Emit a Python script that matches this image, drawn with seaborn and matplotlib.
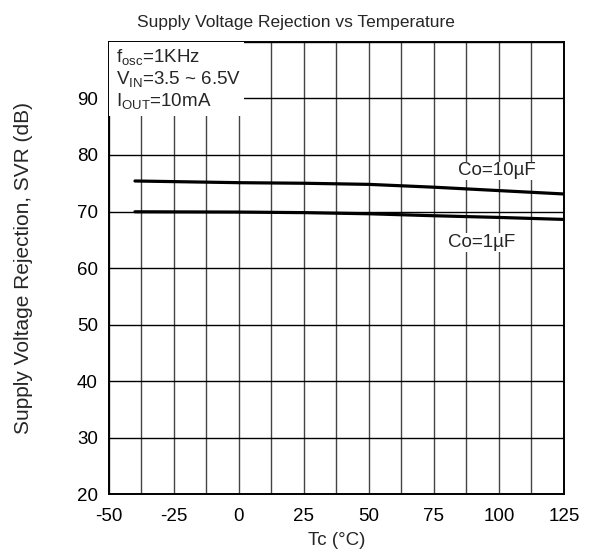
import matplotlib
matplotlib.use("Agg")
import matplotlib.pyplot as plt
import seaborn as sns
import pandas as pd
import numpy as np

sns.set_theme(style="white")
plt.rcParams['font.family'] = ['Liberation Sans', 'DejaVu Sans']
plt.rcParams['mathtext.fontset'] = 'custom'
plt.rcParams['mathtext.rm'] = 'Liberation Sans'

temps = [-40, 0, 25, 50, 75, 100, 125]
svr_10uF = [75.4, 75.1, 75.0, 74.8, 74.3, 73.7, 73.1]
svr_1uF = [69.95, 69.9, 69.8, 69.6, 69.25, 68.95, 68.6]
series_names = ["Co=10µF", "Co=1µF"]

df = pd.concat([
    pd.DataFrame({"Tc": temps, "SVR": svr_10uF, "Co": series_names[0]}),
    pd.DataFrame({"Tc": temps, "SVR": svr_1uF, "Co": series_names[1]}),
])

xticks = [-50, -25, 0, 25, 50, 75, 100, 125]
yticks = [20, 30, 40, 50, 60, 70, 80, 90]

fig = plt.figure(figsize=(5.9, 5.51), dpi=100)
ax = fig.add_axes([0.1847, 0.1034, 0.7712, 0.8204])

# grid
for xv in np.arange(-50, 125.1, 12.5):
    ax.axvline(xv, color="#444444", lw=1.0, zorder=1)
for yv in range(20, 101, 10):
    ax.axhline(yv, color="black", lw=1.0, zorder=1)

sns.lineplot(data=df, x="Tc", y="SVR", hue="Co", palette=["black", "black"],
             linewidth=2.3, legend=False, ax=ax, zorder=3)

ax.set_xlim(-50, 125)
ax.set_ylim(20, 100)
ax.set_xticks(xticks)
ax.set_xticklabels([str(v) for v in xticks])
ax.set_yticks(yticks)
ax.set_yticklabels([str(v) for v in yticks])
ax.tick_params(axis="both", labelsize=13.5, colors="black")
ax.tick_params(axis="y", length=0, pad=8)
ax.tick_params(axis="x", length=0, pad=10)
for sp in ax.spines.values():
    sp.set_color("black")
    sp.set_linewidth(1.4)

ax.set_xlabel("Tc (°C)", fontsize=13.5, labelpad=5)
ax.set_ylabel("Supply Voltage Rejection, SVR (dB)", fontsize=15)
ax.yaxis.set_label_coords(-0.167, 0.5)
ax.set_title("Supply Voltage Rejection vs Temperature", fontsize=12.5, pad=11,
             x=0.41)

# white box for conditions
ax.add_patch(plt.Rectangle((-50, 86.9), 52, 13.1, facecolor="white",
                           edgecolor="none", zorder=4))
ax.text(-47.2, 97.3, r"f$\mathregular{_{osc}}$=1KHz", fontsize=13.5, va="center", zorder=5)
ax.text(-47.2, 93.5, r"V$\mathregular{_{IN}}$=3.5 ~ 6.5V", fontsize=13.5, va="center", zorder=5)
ax.text(-47.2, 89.5, r"I$\mathregular{_{OUT}}$=10mA", fontsize=13.5, va="center", zorder=5)

ax.text(99, 77.2, series_names[0], fontsize=13.5, ha="center", va="center",
        zorder=5, bbox=dict(facecolor="white", edgecolor="none", pad=0.5))
ax.text(93.5, 64.5, series_names[1], fontsize=13.5, ha="center", va="center",
        zorder=5, bbox=dict(facecolor="white", edgecolor="none", pad=0.5))

fig.savefig("out.png", dpi=100, facecolor="white")
